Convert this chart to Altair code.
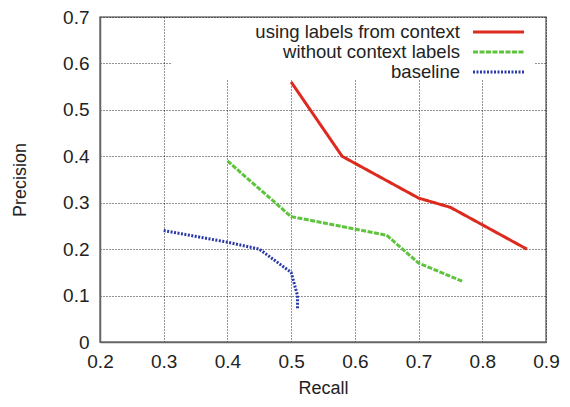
import altair as alt
import pandas as pd

series_names = ["using labels from context", "without context labels", "baseline"]
series_colors = ["#dd2a1e", "#5ec43c", "#2b39a6"]
series_dash = [[1, 0], [5, 1.5], [2, 1.5]]

red_recall = [0.50, 0.58, 0.70, 0.75, 0.87]
red_precision = [0.56, 0.40, 0.31, 0.29, 0.20]

green_recall = [0.40, 0.50, 0.65, 0.70, 0.77]
green_precision = [0.39, 0.27, 0.23, 0.17, 0.13]

blue_recall = [0.30, 0.40, 0.45, 0.50, 0.51, 0.51]
blue_precision = [0.24, 0.215, 0.20, 0.15, 0.10, 0.07]

x_ticks = [0.2, 0.3, 0.4, 0.5, 0.6, 0.7, 0.8, 0.9]
y_ticks = [0, 0.1, 0.2, 0.3, 0.4, 0.5, 0.6, 0.7]

rows = []
for name, xs, ys in zip(series_names,
                        [red_recall, green_recall, blue_recall],
                        [red_precision, green_precision, blue_precision]):
    for i, (x, y) in enumerate(zip(xs, ys)):
        rows.append({"series": name, "recall": x, "precision": y, "order": i})
df = pd.DataFrame(rows)

FONT = "Liberation Sans"
LABEL_EXPR = "datum.value == 0 ? '0' : format(datum.value, '.1f')"

W, H = 446, 325

x_enc = alt.X("recall:Q", title="Recall",
              scale=alt.Scale(domain=[0.2, 0.9], nice=False, zero=False),
              axis=alt.Axis(values=x_ticks, labelExpr=LABEL_EXPR))
y_enc = alt.Y("precision:Q", title="Precision",
              scale=alt.Scale(domain=[0, 0.7], nice=False),
              axis=alt.Axis(values=y_ticks, labelExpr=LABEL_EXPR))

lines = alt.Chart(df).mark_line(strokeWidth=3).encode(
    x=x_enc,
    y=y_enc,
    order="order:Q",
    color=alt.Color("series:N", scale=alt.Scale(domain=series_names, range=series_colors), legend=None),
    strokeDash=alt.StrokeDash("series:N", scale=alt.Scale(domain=series_names, range=series_dash), legend=None),
)

# white legend box hiding grid
box = alt.Chart(pd.DataFrame({"a": [0]})).mark_rect(color="white").encode(
    x=alt.value(72), x2=alt.value(435), y=alt.value(1), y2=alt.value(62)
)

legend_layers = []
legend_y = [15, 35, 55]
for name, col, dash, yy in zip(series_names, series_colors, series_dash, legend_y):
    d = pd.DataFrame({"label": [name]})
    legend_layers.append(
        alt.Chart(d).mark_text(align="right", baseline="middle", font=FONT, fontSize=18.5, color="#222").encode(
            text="label:N", x=alt.value(360), y=alt.value(yy)
        )
    )
    legend_layers.append(
        alt.Chart(d).mark_rule(color=col, strokeWidth=3, strokeDash=dash).encode(
            x=alt.value(373), x2=alt.value(424), y=alt.value(yy)
        )
    )

chart = alt.layer(lines, box, *legend_layers).properties(
    width=W, height=H,
    autosize=alt.AutoSizeParams(type="none"),
    padding={"left": 92, "top": 9, "right": 16, "bottom": 57},
).configure_view(
    stroke="#777", strokeWidth=1.5
).configure_axis(
    grid=True, gridColor="#000", gridDash=[1, 2], gridOpacity=0.85, gridWidth=1,
    domain=True, domainColor="#666", domainWidth=1.5,
    ticks=False, labelFlush=False,
    labelFont=FONT, labelFontSize=19, labelColor="#222",
    titleFont=FONT, titleFontSize=18, titleColor="#222", titleFontWeight="normal",
).configure_axisX(
    labelPadding=10, titlePadding=8
).configure_axisY(
    labelPadding=11, titlePadding=33
)

chart.save("out.html", embed_options={"renderer": "svg", "actions": False})
